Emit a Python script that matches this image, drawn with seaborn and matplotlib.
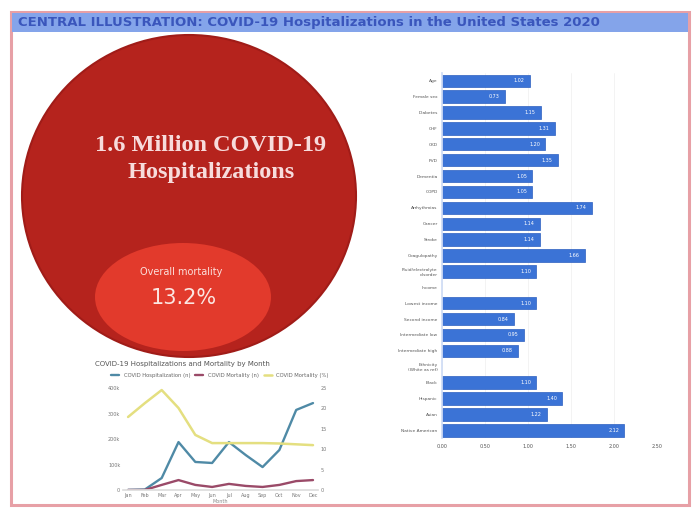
import numpy as np
import pandas as pd
import seaborn as sns
import matplotlib.pyplot as plt
from matplotlib.patches import Ellipse, Rectangle

# monthly data
months = ["Jan", "Feb", "Mar", "Apr", "May", "Jun", "Jul", "Aug", "Sep", "Oct", "Nov", "Dec"]
hosp_n = [500, 2000, 47000, 188000, 110000, 106000, 188000, 137000, 90000, 157000, 314000, 341000]
death_n = [100, 300, 20000, 39000, 20000, 12000, 24000, 16000, 12000, 20000, 35000, 39000]
death_pct = [17.9, 21.3, 24.5, 20.1, 13.5, 11.5, 11.5, 11.5, 11.5, 11.4, 11.2, 11.0]

# predictors of mortality (odds ratios)
predictors = ["Age", "Female sex", "Diabetes", "CHF", "CKD", "PVD", "Dementia", "COPD",
              "Arrhythmias", "Cancer", "Stroke", "Coagulopathy", "Fluid/electrolyte\ndisorder",
              "Income", "Lowest income", "Second income", "Intermediate low",
              "Intermediate high", "Ethnicity\n(White as ref)", "Black", "Hispanic", "Asian",
              "Native American"]
odds = [1.02, 0.73, 1.15, 1.31, 1.20, 1.35, 1.05, 1.05, 1.74, 1.14, 1.14, 1.66, 1.10,
        np.nan, 1.10, 0.84, 0.95, 0.88, np.nan, 1.10, 1.40, 1.22, 2.12]

big_text = "1.6 Million COVID-19\nHospitalizations"
mort_label = "Overall mortality"
mort_value = "13.2%"
title = "CENTRAL ILLUSTRATION: COVID-19 Hospitalizations in the United States 2020"

sns.set_theme(style="white")
plt.rcParams['font.family'] = ['DejaVu Sans']

fig = plt.figure(figsize=(6.99, 5.09), dpi=100)

# background layer in pixel coordinates
bg = fig.add_axes([0, 0, 1, 1], zorder=0)
bg.set_xlim(0, 699)
bg.set_ylim(509, 0)
bg.axis("off")
bg.add_patch(Rectangle((11, 12), 678, 493, facecolor="white", edgecolor="#e7a0a6", lw=2.2))
bg.add_patch(Rectangle((12, 13), 676, 19, facecolor="#84a4ea", edgecolor="none"))
bg.text(18, 22.5, title, color="#3a56bc", fontsize=9.5, fontweight="bold", va="center", ha="left")

bg.add_patch(Ellipse((189, 196), 334, 322, facecolor="#b5231d", edgecolor="#a01c18", lw=1.5))
bg.add_patch(Ellipse((183, 297), 176, 108, facecolor="#e23a2c", edgecolor="none"))
bg.text(211, 159, big_text, ha="center", va="center", color="#f7dcdc",
        fontsize=17.5, fontweight="bold", family="Liberation Serif", linespacing=1.35)
bg.text(181, 272, mort_label, ha="center", va="center", color="#fbe0dc", fontsize=7)
bg.text(184, 298, mort_value, ha="center", va="center", color="#fbe6e2", fontsize=15)

# line chart
df = pd.DataFrame({"Month": months, "Hosp": hosp_n, "Deaths": death_n, "Pct": death_pct})
df["idx"] = range(len(months))
ax1 = fig.add_axes([0.176, 0.0373, 0.279, 0.2004], zorder=2)
ax1.patch.set_alpha(0)
sns.lineplot(data=df, x="idx", y="Hosp", ax=ax1, color="#4f8aa6", lw=1.7,
             label="COVID Hospitalization (n)", legend=False)
sns.lineplot(data=df, x="idx", y="Deaths", ax=ax1, color="#9a4a68", lw=1.7,
             label="COVID Mortality (n)", legend=False)
ax2 = ax1.twinx()
sns.lineplot(data=df, x="idx", y="Pct", ax=ax2, color="#e4df80", lw=1.8,
             label="COVID Mortality (%)", legend=False)
ax1.set_ylim(0, 400000)
ax2.set_ylim(0, 25)
ax1.set_xlim(-0.3, 11.3)
ax1.set_yticks([0, 100000, 200000, 300000, 400000])
ax1.set_yticklabels(["0", "100k", "200k", "300k", "400k"])
ax2.set_yticks([0, 5, 10, 15, 20, 25])
ax1.set_xticks(df["idx"])
ax1.set_xticklabels(months)
for a in (ax1, ax2):
    a.tick_params(labelsize=3.5, colors="#777777", length=0, pad=2)
    a.set_xlabel("")
    a.set_ylabel("")
    for s in a.spines.values():
        s.set_visible(False)
ax1.spines["bottom"].set_visible(True)
ax1.spines["bottom"].set_color("#dddddd")
ax1.set_xlabel("Month", fontsize=3.5, color="#888888", labelpad=1)
fig.text(95 / 699, 1 - 364 / 509, "COVID-19 Hospitalizations and Mortality by Month",
         fontsize=5, color="#555555", va="center")
h1, l1 = ax1.get_legend_handles_labels()
h2, l2 = ax2.get_legend_handles_labels()
fig.legend(h1 + h2, l1 + l2, loc="center", bbox_to_anchor=(220 / 699, 1 - 375 / 509),
           ncol=3, fontsize=3.8, frameon=False, handlelength=1.5, columnspacing=1.0,
           labelcolor="#666666")

# bar chart
bdf = pd.DataFrame({"Predictor": predictors, "OR": odds})
axb = fig.add_axes([0.632, 0.139, 0.308, 0.718], zorder=2)
sns.barplot(data=bdf, y="Predictor", x="OR", orient="h", color="#3b73d6", saturation=1,
            width=0.78, ax=axb, edgecolor="#2d5fc0", linewidth=0.5)
axb.set_xlim(0, 2.5)
axb.set_xticks([0, 0.5, 1.0, 1.5, 2.0, 2.5])
axb.set_xticklabels(["0.00", "0.50", "1.00", "1.50", "2.00", "2.50"])
axb.tick_params(axis="x", labelsize=3.5, colors="#555555", length=0, pad=4)
axb.tick_params(axis="y", labelsize=3.2, colors="#555555", length=0, pad=3)
axb.set_xlabel("")
axb.set_ylabel("")
axb.grid(axis="x", color="#eeeeee", lw=0.5)
axb.set_axisbelow(True)
for s in axb.spines.values():
    s.set_visible(False)
axb.spines["left"].set_visible(True)
axb.spines["left"].set_color("#cfdcf5")
for i, v in enumerate(odds):
    if not np.isnan(v):
        axb.text(v - 0.06, i, f"{v:.2f}", ha="right", va="center", fontsize=3.5, color="white")

fig.savefig("out.png", dpi=100)
